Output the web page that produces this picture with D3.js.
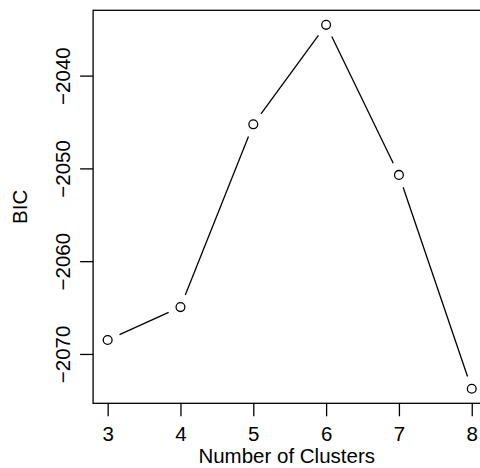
<!DOCTYPE html>
<html>
<head>
<meta charset="utf-8">
<script src="https://cdn.jsdelivr.net/npm/d3@7"></script>
<style>
  body { margin: 0; background: #fff; }
  svg { display: block; }
  text { font-family: "Liberation Sans", Arial, Helvetica, sans-serif; fill: #000; }
</style>
</head>
<body>
<svg id="chart" width="480" height="468"></svg>
<script>
// data
var clusters = [3, 4, 5, 6, 7, 8];
var bic = [-2068.5, -2064.95, -2045.25, -2034.53, -2050.7, -2073.75];
var xTicks = [3, 4, 5, 6, 7, 8];
var yTicks = [-2070, -2060, -2050, -2040];
var xLabel = "Number of Clusters";
var yLabel = "BIC";

var svg = d3.select("#chart");
var box = {left: 93.1, right: 486.3, top: 10.3, bottom: 403.3};
var fontSize = 20.5;
var fmt = d3.format("d");

// R style: extend the data range by 4% on each side
function rExtent(v) {
    var e = d3.extent(v), pad = (e[1] - e[0]) * 0.04;
    return [e[0] - pad, e[1] + pad];
}

var x = d3.scaleLinear().domain(rExtent(clusters)).range([box.left, box.right]);
var y = d3.scaleLinear().domain(rExtent(bic)).range([box.bottom, box.top]);

var pts = clusters.map(function(c, i) { return {x: x(c), y: y(bic[i])}; });

// line segments with gaps round the points (type = "b")
var gap = 13;
var segs = [];
for (var i = 0; i < pts.length - 1; i++) {
    var a = pts[i], b = pts[i + 1];
    var dx = b.x - a.x, dy = b.y - a.y, len = Math.sqrt(dx*dx + dy*dy);
    var ux = dx / len, uy = dy / len;
    segs.push({x1: a.x + ux*gap, y1: a.y + uy*gap, x2: b.x - ux*gap, y2: b.y - uy*gap});
}
svg.selectAll("line.seg").data(segs).enter().append("line")
    .attr("class", "seg")
    .attr("x1", d => d.x1).attr("y1", d => d.y1)
    .attr("x2", d => d.x2).attr("y2", d => d.y2)
    .attr("stroke", "#000").attr("stroke-width", 1.3);

svg.selectAll("circle.pt").data(pts).enter().append("circle")
    .attr("class", "pt")
    .attr("cx", d => d.x).attr("cy", d => d.y).attr("r", 4.4)
    .attr("fill", "none").attr("stroke", "#000").attr("stroke-width", 1.3);

// plot box
svg.append("rect")
    .attr("x", box.left).attr("y", box.top)
    .attr("width", box.right - box.left).attr("height", box.bottom - box.top)
    .attr("fill", "none").attr("stroke", "#000").attr("stroke-width", 1.3);

// x axis
var xAxis = svg.append("g")
    .attr("transform", "translate(0," + box.bottom + ")")
    .call(d3.axisBottom(x).tickValues(xTicks).tickFormat(fmt).tickSize(13).tickSizeOuter(0).tickPadding(10));
xAxis.select(".domain").remove();
xAxis.selectAll(".tick line").attr("stroke", "#000").attr("stroke-width", 1.3);
xAxis.selectAll(".tick text").attr("font-size", fontSize).attr("font-family", null).attr("fill", "#000");

// y axis, labels parallel to the axis
var yAxis = svg.append("g")
    .attr("transform", "translate(" + box.left + ",0)")
    .call(d3.axisLeft(y).tickValues(yTicks).tickFormat(fmt).tickSize(13).tickSizeOuter(0));
yAxis.select(".domain").remove();
yAxis.selectAll(".tick line").attr("stroke", "#000").attr("stroke-width", 1.3);
yAxis.selectAll(".tick text")
    .attr("font-size", fontSize).attr("font-family", null).attr("fill", "#000")
    .attr("x", null).attr("dy", null)
    .attr("text-anchor", "middle")
    .attr("transform", "translate(-23,0) rotate(-90)");

svg.append("text")
    .attr("x", (box.left + box.right) / 2 - 3).attr("y", 463)
    .attr("text-anchor", "middle").attr("font-size", fontSize)
    .text(xLabel);

svg.append("text")
    .attr("transform", "translate(27," + (box.top + box.bottom) / 2 + ") rotate(-90)")
    .attr("text-anchor", "middle").attr("font-size", fontSize)
    .text(yLabel);
</script>
</body>
</html>
